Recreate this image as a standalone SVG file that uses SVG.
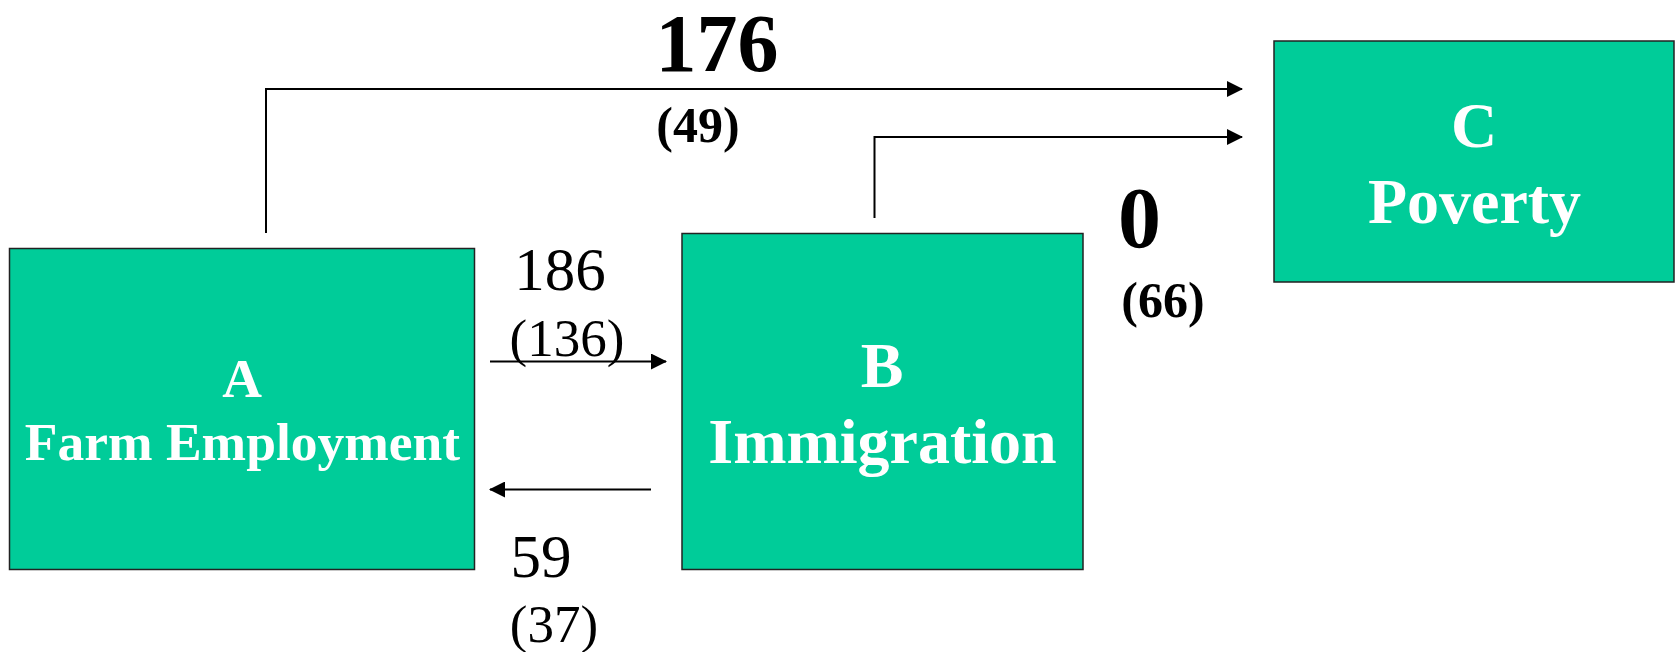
<svg xmlns="http://www.w3.org/2000/svg" width="1675" height="652" viewBox="0 0 1675 652">
<defs>
<style>
.box{fill:#00CC99;stroke:#222;stroke-width:1.5}
.lbl{font-family:"Liberation Serif","Times New Roman",serif;font-weight:bold;fill:#fff;text-anchor:middle}
.num{font-family:"Liberation Serif","Times New Roman",serif;fill:#000;text-anchor:middle}
.b{font-weight:bold}
.edge{fill:none;stroke:#000;stroke-width:2}
</style>
<marker id="arr" viewBox="0 0 16 16" refX="15" refY="8" markerWidth="16" markerHeight="16" markerUnits="userSpaceOnUse" orient="auto">
<path d="M0,0 L16,8 L0,16 Z" fill="#000"/>
</marker>
</defs>
<rect width="1675" height="652" fill="#fff"/>
<g id="connectors">
<path class="edge" d="M266,233 V89 H1242" marker-end="url(#arr)"/>
<path class="edge" d="M874.5,218 V137 H1242" marker-end="url(#arr)"/>
<path class="edge" d="M490,361.5 H666" marker-end="url(#arr)"/>
<path class="edge" d="M651,489.5 H490" marker-end="url(#arr)"/>
</g>
<g id="node-A">
<rect class="box" x="9.5" y="248.5" width="465" height="321"/>
<text class="lbl" x="242" y="397" font-size="55">A</text>
<text class="lbl" x="242.5" y="460" font-size="53.5">Farm Employment</text>
</g>
<g id="node-B">
<rect class="box" x="682" y="233.5" width="401" height="336"/>
<text class="lbl" x="882" y="387" font-size="64">B</text>
<text class="lbl" x="882.5" y="463" font-size="64">Immigration</text>
</g>
<g id="node-C">
<rect class="box" x="1274" y="41" width="400" height="241"/>
<text class="lbl" x="1474" y="146.5" font-size="64">C</text>
<text class="lbl" x="1474.5" y="222.5" font-size="64">Poverty</text>
</g>
<g id="labels">
<text class="num b" x="717" y="71" font-size="82">176</text>
<text class="num b" x="698" y="141.5" font-size="50">(49)</text>
<text class="num" x="560" y="289.5" font-size="61">186</text>
<text class="num" x="567" y="355.5" font-size="53">(136)</text>
<text class="num" x="541" y="577" font-size="61">59</text>
<text class="num" x="554" y="641.5" font-size="53">(37)</text>
<text class="num b" x="1139.5" y="246.5" font-size="86">0</text>
<text class="num b" x="1163" y="316.5" font-size="50">(66)</text>
</g>
</svg>
